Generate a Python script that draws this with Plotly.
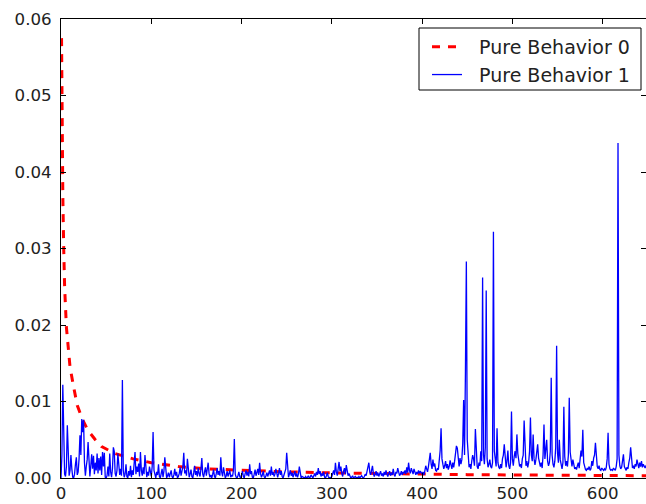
import plotly.graph_objects as go

# Pure Behavior 0 (red dashed decay curve): x positions and values
red_x = [0.6, 1, 1.5, 2, 3, 4, 6, 8, 10, 14, 18, 24, 30, 38, 45, 60, 80, 100,
         130, 160, 200, 250, 300, 350, 400, 450, 500, 550, 600, 650]
red_y = [0.0575, 0.050, 0.044, 0.037, 0.030, 0.025, 0.0197, 0.0165, 0.0145, 0.0119,
         0.0095, 0.0076, 0.0062, 0.0050, 0.0041, 0.0032, 0.0025, 0.0020,
         0.0015, 0.0012, 0.0010, 0.0008, 0.00067, 0.00057, 0.0005, 0.00044,
         0.0004, 0.00036, 0.00033, 0.0003]

# Pure Behavior 1 (blue), values in units of 1e-3, index 0..649
blue_milli = [
    # 0
    0.0, 3.0, 12.2, 4.0, 0.5, 0.2, 1.5, 6.9, 2.0, 0.3,
    1.0, 3.0, 1.2, 0.1, 0.0, 0.5, 1.8, 2.7, 0.4, 0.8,
    2.5, 5.6, 3.0, 7.7, 6.0, 7.6, 2.0, 0.3, 1.5, 2.4,
    4.7, 1.0, 0.2, 1.6, 3.1, 1.2, 2.9, 0.5, 2.0, 1.0,
    3.2, 0.6, 2.6, 1.0, 2.8, 0.4, 3.4, 1.5, 3.3, 0.1,
    0.0, 0.3, 1.5, 0.2, 3.2, 0.8, 0.1, 1.2, 4.0, 3.5,
    0.6, 0.2, 1.0, 3.2, 0.9, 0.4, 1.2, 0.3, 12.8, 1.0,
    0.1, 0.5, 1.8, 0.2, 0.0, 0.9, 0.3, 1.6, 0.1, 1.0,
    0.4, 2.0, 3.4, 0.5, 1.5, 0.8, 1.9, 0.2, 3.4, 1.0,
    0.3, 1.4, 0.5, 3.0, 1.2, 0.1, 0.8, 0.3, 1.5, 0.4,
    # 100
    0.2, 1.5, 6.0, 1.0, 0.3, 0.0, 0.8, 0.4, 1.8, 0.2,
    0.0, 0.6, 1.2, 0.1, 0.9, 2.7, 0.5, 0.0, 0.3, 0.7,
    0.1, 0.5, 1.0, 0.2, 0.0, 0.4, 1.2, 0.3, 0.8, 0.0,
    0.2, 0.6, 1.4, 0.3, 0.9, 1.5, 3.3, 0.6, 1.0, 0.3,
    2.5, 0.8, 0.1, 0.5, 1.1, 0.2, 0.0, 0.7, 1.6, 0.4,
    0.9, 0.2, 1.3, 0.6, 0.2, 1.2, 2.6, 0.5, 0.1, 0.8,
    1.4, 0.3, 0.9, 2.0, 0.6, 0.1, 0.4, 0.0, 0.5, 1.1,
    0.2, 0.0, 0.6, 1.3, 0.4, 0.9, 0.3, 2.7, 0.8, 0.2,
    1.4, 0.5, 0.0, 0.3, 0.9, 0.2, 0.6, 1.0, 0.1, 0.4,
    0.2, 1.0, 5.1, 0.5, 0.1, 0.0, 0.3, 0.8, 0.2, 0.0,
    # 200
    0.4, 0.9, 0.2, 0.0, 0.6, 1.0, 0.3, 0.8, 0.2, 1.8,
    0.5, 0.9, 0.1, 0.0, 0.5, 1.1, 0.3, 0.7, 1.2, 0.4,
    2.0, 0.6, 0.1, 0.4, 0.9, 0.2, 0.0, 0.3, 0.7, 0.2,
    0.5, 1.0, 0.3, 1.5, 0.4, 0.8, 0.2, 0.5, 1.2, 0.3,
    0.1, 0.6, 1.3, 0.4, 0.9, 0.2, 0.0, 0.4, 0.8, 1.2,
    3.3, 0.6, 0.1, 0.5, 1.0, 0.3, 0.7, 0.1, 0.4, 0.9,
    0.2, 0.6, 0.1, 0.5, 1.5, 0.4, 0.0, 0.2, 0.1, 0.0,
    0.0, 0.2, 0.0, 0.1, 0.3, 0.0, 0.1, 0.4, 0.2, 0.0,
    0.3, 0.6, 0.2, 0.8, 0.4, 1.3, 0.5, 0.9, 0.2, 0.6,
    0.3, 0.8, 0.1, 0.0, 0.3, 0.7, 0.2, 0.0, 0.1, 0.0,
    # 300
    0.2, 0.5, 1.0, 0.4, 2.0, 0.8, 0.3, 1.2, 2.1, 0.9,
    1.5, 0.6, 0.2, 0.9, 1.3, 0.5, 1.7, 1.0, 0.3, 0.6,
    0.2, 0.0, 0.1, 0.3, 0.0, 0.1, 0.2, 0.0, 0.1, 0.0,
    0.2, 0.0, 0.1, 0.3, 0.1, 0.0, 0.2, 0.5, 0.3, 0.9,
    1.2, 2.0, 0.8, 0.4, 1.0, 1.6, 0.6, 0.2, 0.5, 0.9,
    0.3, 0.7, 0.2, 0.5, 0.9, 0.3, 0.6, 0.2, 0.8, 0.4,
    1.0, 0.5, 0.2, 0.6, 0.9, 0.3, 0.7, 0.4, 1.2, 0.5,
    0.2, 0.8, 0.6, 1.3, 0.7, 0.3, 0.5, 0.9, 0.4, 0.8,
    0.6, 1.0, 0.5, 1.4, 0.7, 2.0, 1.0, 0.6, 1.3, 0.8,
    0.5, 1.2, 0.7, 0.4, 0.8, 0.5, 1.0, 0.6, 0.9, 0.7,
    # 400
    0.5, 0.8, 0.4, 0.9, 1.6, 1.2, 0.8, 1.5, 2.2, 3.3,
    1.8, 1.2, 2.4, 1.5, 1.9, 1.0, 0.9, 1.3, 1.1, 2.0,
    3.6, 6.5, 2.5, 1.8, 1.2, 1.6, 2.2, 1.3, 1.8, 1.1,
    1.5, 2.3, 1.6, 1.2, 2.0, 1.4, 2.2, 3.2, 4.2, 3.9,
    2.0, 1.5, 2.6, 1.8, 2.4, 4.5, 10.2, 3.0, 14.0, 28.3,
    5.0, 2.0, 1.4, 1.8, 1.2, 2.2, 3.0, 2.5, 1.6, 6.4,
    2.8, 1.5, 1.2, 2.0, 1.6, 3.5, 2.2, 26.2, 3.0, 1.8,
    4.0, 24.5, 2.5, 1.4, 1.8, 2.4, 1.5, 1.3, 2.0, 32.2,
    3.5, 2.0, 1.5, 6.5, 2.0, 1.4, 1.2, 1.8, 1.3, 2.5,
    3.0, 4.4, 2.0, 1.4, 2.2, 3.6, 1.6, 1.2, 2.0, 8.7,
    # 500
    2.5, 1.6, 2.8, 3.5, 2.6, 5.7, 3.2, 2.0, 1.5, 1.8,
    1.3, 2.5, 3.0, 7.5, 2.6, 1.6, 2.2, 1.4, 2.0, 3.5,
    7.9, 3.0, 2.2, 5.7, 2.5, 1.7, 2.4, 3.2, 4.4, 2.6,
    1.8, 1.5, 2.0, 1.3, 3.0, 7.0, 2.5, 3.4, 5.0, 2.2,
    1.6, 2.0, 3.5, 13.1, 3.0, 1.8, 1.4, 2.2, 4.0, 17.3,
    3.2, 2.0, 5.0, 2.4, 1.5, 1.2, 2.0, 9.3, 2.8, 1.6,
    2.2, 1.5, 3.0, 10.5, 3.4, 2.0, 1.5, 2.4, 1.6, 1.2,
    1.4, 1.1, 1.6, 2.0, 1.3, 2.5, 3.6, 2.8, 6.3, 2.0,
    1.4, 1.1, 1.0, 1.3, 1.1, 1.5, 1.0, 1.2, 2.2, 1.6,
    2.6, 3.0, 4.6, 2.2, 1.5, 1.2, 1.6, 1.1, 1.0, 1.3,
    # 600
    1.1, 1.0, 1.2, 1.0, 1.4, 2.5, 5.9, 1.8, 1.2, 1.0,
    1.1, 1.0, 1.3, 1.1, 1.0, 1.5, 2.5, 43.8, 3.0, 1.6,
    1.2, 1.4, 2.0, 3.1, 1.5, 1.2, 1.0, 1.4, 1.2, 2.0,
    2.6, 4.0, 1.8, 1.3, 1.6, 1.2, 1.8, 1.5, 2.4, 1.6,
    1.3, 2.0, 1.5, 2.2, 1.4, 1.8, 1.5, 1.3, 1.6, 1.5,
]
blue_x = list(range(len(blue_milli)))
blue_y = [v / 1000.0 for v in blue_milli]

series_names = ["Pure Behavior 0", "Pure Behavior 1"]
x_ticks = [0, 100, 200, 300, 400, 500, 600]
y_ticks = [0.00, 0.01, 0.02, 0.03, 0.04, 0.05, 0.06]

NB = "\u00a0"
fig = go.Figure()
fig.add_trace(go.Scatter(
    x=red_x, y=red_y, mode="lines", name=NB * 2 + series_names[0] + NB,
    line=dict(color="#ff0000", width=3, dash="8px,8px"),
))
fig.add_trace(go.Scatter(
    x=blue_x, y=blue_y, mode="lines", name=NB * 2 + series_names[1] + NB,
    line=dict(color="#0000ff", width=1.3),
))

font = dict(family="DejaVu Sans", size=16.67, color="#222222")
fig.update_layout(
    width=646, height=504,
    margin=dict(l=61, r=0, t=19, b=26),
    paper_bgcolor="white", plot_bgcolor="white",
    font=font,
    showlegend=True,
    legend=dict(
        x=(427 - 61) / 585, y=(478 - 28) / 459, xanchor="left", yanchor="top",
        bgcolor="rgba(0,0,0,0)", borderwidth=0,
        font=dict(family="DejaVu Sans", size=19, color="#222222"),
        tracegroupgap=0,
    ),
    shapes=[dict(
        type="rect", xref="paper", yref="paper",
        x0=(419 - 61) / 585, x1=(641 - 61) / 585,
        y0=(478 - 90) / 459, y1=(478 - 28) / 459,
        line=dict(color="black", width=1), fillcolor="white", layer="above",
    )],
    xaxis=dict(
        range=[0, 648], tickvals=x_ticks, ticktext=[str(t) for t in x_ticks],
        ticks="inside", ticklen=5, tickcolor="black", tickwidth=1,
        showline=True, linecolor="black", linewidth=1, mirror="ticks",
        showgrid=False, zeroline=False,
    ),
    yaxis=dict(
        range=[0, 0.06], tickvals=y_ticks, ticktext=[f"{t:.2f}" for t in y_ticks],
        ticks="inside", ticklen=5, tickcolor="black", tickwidth=1,
        showline=True, linecolor="black", linewidth=1, mirror="ticks",
        showgrid=False, zeroline=False, ticklabelstandoff=5,
    ),
)

page_fix = (
    "document.body.style.margin='0';"
    "document.body.style.padding='0';"
    "document.documentElement.style.overflow='hidden';"
    "document.body.style.overflow='hidden';"
)
fig.write_html("out.html", post_script=page_fix, config={"displayModeBar": False})
